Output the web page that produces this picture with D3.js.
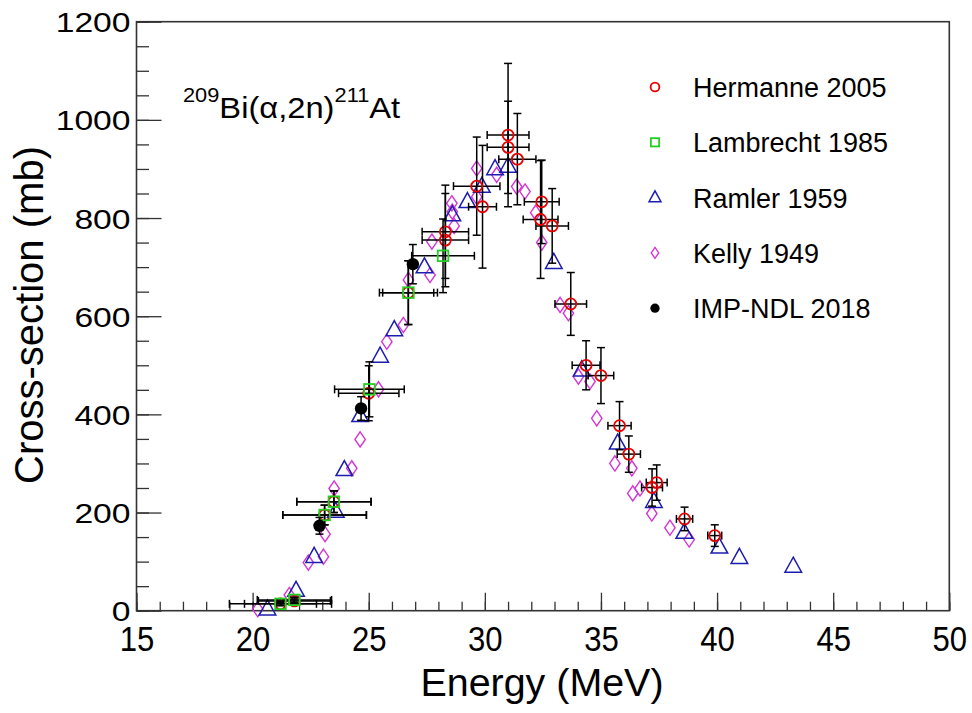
<!DOCTYPE html>
<html>
<head>
<meta charset="utf-8">
<script src="https://cdn.jsdelivr.net/npm/d3@7"></script>
<style>
  html, body { margin: 0; padding: 0; background: #ffffff; }
  svg { display: block; font-family: "Liberation Sans", Arial, Helvetica, sans-serif; }
</style>
</head>
<body>
<svg id="chart" width="972" height="713"></svg>
<script>
// ---- data: 209Bi(alpha,2n)211At excitation function ----
// energies in MeV, cross-sections in mb, uncertainties as +/- half widths

const hermanneE   = [21.2, 21.8, 23.1, 23.5, 25.0, 26.7, 28.3, 28.3, 29.65, 29.9, 31.0, 31.0, 31.4, 32.45, 32.4, 32.9, 33.7, 34.36, 35.0, 35.8, 36.2, 37.2, 37.4, 38.6, 39.9];
const hermanneXS  = [14, 20, 195, 222, 443, 648, 772, 755, 865, 823, 969, 944, 920, 833, 797, 784, 625, 500, 479, 377, 319, 251, 261, 187, 153];
const hermanneDE  = [1.55, 1.55, 1.8, 1.6, 1.3, 1.1, 1.0, 1.0, 1.0, 0.6, 0.9, 0.9, 0.8, 0.75, 0.75, 0.7, 0.68, 0.6, 0.55, 0.5, 0.5, 0.45, 0.45, 0.35, 0.3];
const hermanneDXS = [3, 4, 20, 22, 56, 65, 95, 95, 100, 125, 146, 94, 93, 85, 120, 76, 64, 50, 57, 49, 37, 38, 36, 24, 22];

const lambrechtE   = [21.2, 21.8, 23.1, 23.5, 25.03, 26.71, 28.2];
const lambrechtXS  = [14, 22, 195, 222, 451, 648, 723];
const lambrechtDE  = [2.2, 1.6, 1.8, 1.6, 1.5, 1.25, 1.35];
const lambrechtDXS = [4, 5, 20, 22, 56, 65, 75];

const ramlerE  = [20.64, 21.87, 22.65, 23.58, 23.95, 24.63, 25.49, 26.1, 27.4, 28.6, 29.25, 29.87, 30.44, 31.0, 32.97, 34.17, 35.72, 37.28, 38.59, 40.1, 40.96, 43.28];
const ramlerXS = [3, 41, 110, 202, 287, 397, 518, 572, 700, 806, 833, 864, 900, 905, 709, 490, 341, 222, 159, 129, 108, 90];

const kellyE  = [20.22, 21.58, 22.4, 23.05, 23.12, 23.51, 24.27, 24.63, 25.42, 25.78, 26.49, 26.71, 27.64, 27.72, 28.6, 28.58, 28.68, 29.65, 29.65, 30.51, 31.37, 31.73, 32.19, 32.45, 33.24, 33.6, 34.03, 34.53, 34.82, 35.6, 36.33, 36.37, 36.68, 37.19, 37.97, 38.8];
const kellyXS = [3, 32, 98, 110, 156, 249, 290, 349, 451, 548, 582, 674, 684, 752, 813, 830, 784, 901, 843, 888, 864, 854, 811, 750, 623, 606, 477, 467, 392, 300, 290, 239, 249, 198, 169, 145];

const impE   = [22.88, 24.67, 26.9];
const impXS  = [173, 412, 706];
const impDXS = [17, 24, 40];

const xTicks = [15, 20, 25, 30, 35, 40, 45, 50];
const yTicks = [0, 200, 400, 600, 800, 1000, 1200];

const legendNames = ["Hermanne 2005", "Lambrecht 1985", "Ramler 1959", "Kelly 1949", "IMP-NDL 2018"];

// ---- layout ----
const svg = d3.select("#chart");
const plotLeft = 136.5, plotRight = 949.3, plotTop = 21.7, plotBottom = 610.7;

const x = d3.scaleLinear().domain([15, 50]).range([plotLeft, plotRight]);
const y = d3.scaleLinear().domain([0, 1200]).range([plotBottom, plotTop]);

const frameColor = "#333333";
const colors = {
  hermanne: "#e60000",
  lambrecht: "#22d022",
  ramler: "#1c1cb0",
  kelly: "#d535d5",
  imp: "#000000"
};

// ---- axes ----
// minor ticks
svg.append("g")
  .attr("transform", `translate(0,${plotBottom})`)
  .call(d3.axisBottom(x).tickValues(d3.range(15, 51, 1)).tickSize(-9).tickFormat(""))
  .call(g => g.select(".domain").remove())
  .call(g => g.selectAll("line").attr("stroke", frameColor).attr("stroke-width", 1.3));

svg.append("g")
  .attr("transform", `translate(${plotLeft},0)`)
  .call(d3.axisLeft(y).tickValues(d3.range(0, 1201, 50)).tickSize(-12.5).tickFormat(""))
  .call(g => g.select(".domain").remove())
  .call(g => g.selectAll("line").attr("stroke", frameColor).attr("stroke-width", 1.3));

// major ticks with labels
const xAxis = svg.append("g")
  .attr("transform", `translate(0,${plotBottom})`)
  .call(d3.axisBottom(x).tickValues(xTicks).tickSize(-18).tickPadding(0).tickFormat(d3.format("d")));
xAxis.select(".domain").remove();
xAxis.selectAll("line").attr("stroke", frameColor).attr("stroke-width", 1.3);
xAxis.selectAll("text")
  .attr("fill", "#000")
  .attr("font-size", 35)
  .attr("y", 40)
  .attr("dy", null)
  .attr("textLength", d => String(d).length * 17.3)
  .attr("lengthAdjust", "spacingAndGlyphs");

const yAxis = svg.append("g")
  .attr("transform", `translate(${plotLeft},0)`)
  .call(d3.axisLeft(y).tickValues(yTicks).tickSize(-25).tickPadding(6).tickFormat(d3.format("d")));
yAxis.select(".domain").remove();
yAxis.selectAll("line").attr("stroke", frameColor).attr("stroke-width", 1.3);
yAxis.selectAll("text")
  .attr("fill", "#000")
  .attr("font-size", 28)
  .attr("dy", "0.36em")
  .attr("textLength", d => String(d).length * 18.7)
  .attr("lengthAdjust", "spacingAndGlyphs");

// frame
svg.append("rect")
  .attr("x", plotLeft).attr("y", plotTop)
  .attr("width", plotRight - plotLeft).attr("height", plotBottom - plotTop)
  .attr("fill", "none").attr("stroke", frameColor).attr("stroke-width", 1.6);

// axis titles
svg.append("text")
  .attr("x", 542).attr("y", 696)
  .attr("text-anchor", "middle")
  .attr("font-size", 38)
  .attr("textLength", 243).attr("lengthAdjust", "spacingAndGlyphs")
  .text("Energy (MeV)");

svg.append("text")
  .attr("transform", "translate(43,315) rotate(-90)")
  .attr("text-anchor", "middle")
  .attr("font-size", 40)
  .attr("textLength", 338).attr("lengthAdjust", "spacingAndGlyphs")
  .text("Cross-section (mb)");

// reaction label
const reaction = svg.append("text")
  .attr("transform", "translate(183,118) scale(1.09,1)")
  .attr("font-size", 30);
reaction.append("tspan").attr("font-size", 20).attr("dy", -16).text("209");
reaction.append("tspan").attr("dy", 16).text("Bi(α,2n)");
reaction.append("tspan").attr("font-size", 20).attr("dy", -16).text("211");
reaction.append("tspan").attr("dy", 16).text("At");

// ---- marker shapes ----
function marker(g, kind, cx, cy, s) {
  // s = scale factor (1 in the plot, smaller in the legend)
  if (kind === "circle") {
    g.append("circle").attr("cx", cx).attr("cy", cy).attr("r", 5.5 * s)
      .attr("fill", "none").attr("stroke", colors.hermanne).attr("stroke-width", 1.8);
  } else if (kind === "square") {
    const h = 5.3 * s;
    g.append("rect").attr("x", cx - h).attr("y", cy - h).attr("width", 2 * h).attr("height", 2 * h)
      .attr("fill", "none").attr("stroke", colors.lambrecht).attr("stroke-width", 1.8);
  } else if (kind === "triangle") {
    const w = 8.3 * s, h = 15 * s;
    g.append("path")
      .attr("d", `M${cx},${cy - h * 0.62} L${cx + w},${cy + h * 0.38} L${cx - w},${cy + h * 0.38} Z`)
      .attr("fill", "none").attr("stroke", colors.ramler).attr("stroke-width", 1.5);
  } else if (kind === "diamond") {
    const w = 5.2 * s, h = 7.6 * s;
    g.append("path")
      .attr("d", `M${cx},${cy - h} L${cx + w},${cy} L${cx},${cy + h} L${cx - w},${cy} Z`)
      .attr("fill", "none").attr("stroke", colors.kelly).attr("stroke-width", 1.4);
  } else if (kind === "dot") {
    g.append("circle").attr("cx", cx).attr("cy", cy).attr("r", 6.2 * s)
      .attr("fill", colors.imp);
  }
}

function errorBars(g, E, XS, dE, dXS) {
  const cap = 4;
  E.forEach((e, i) => {
    const cx = x(e), cy = y(XS[i]);
    if (dE && dE[i]) {
      const x0 = x(e - dE[i]), x1 = x(e + dE[i]);
      g.append("line").attr("x1", x0).attr("x2", x1).attr("y1", cy).attr("y2", cy);
      g.append("line").attr("x1", x0).attr("x2", x0).attr("y1", cy - cap).attr("y2", cy + cap);
      g.append("line").attr("x1", x1).attr("x2", x1).attr("y1", cy - cap).attr("y2", cy + cap);
    }
    if (dXS && dXS[i]) {
      const y0 = y(XS[i] - dXS[i]), y1 = y(XS[i] + dXS[i]);
      g.append("line").attr("x1", cx).attr("x2", cx).attr("y1", y0).attr("y2", y1);
      g.append("line").attr("x1", cx - cap).attr("x2", cx + cap).attr("y1", y0).attr("y2", y0);
      g.append("line").attr("x1", cx - cap).attr("x2", cx + cap).attr("y1", y1).attr("y2", y1);
    }
  });
  g.selectAll("line").attr("stroke", "#000").attr("stroke-width", 1.5);
}

const plot = svg.append("g");

// Kelly 1949
const gKelly = plot.append("g");
kellyE.forEach((e, i) => marker(gKelly, "diamond", x(e), y(kellyXS[i]), 1));

// Ramler 1959
const gRamler = plot.append("g");
ramlerE.forEach((e, i) => marker(gRamler, "triangle", x(e), y(ramlerXS[i]), 1));

// Hermanne 2005
const gHermanneBars = plot.append("g");
errorBars(gHermanneBars, hermanneE, hermanneXS, hermanneDE, hermanneDXS);
const gHermanne = plot.append("g");
hermanneE.forEach((e, i) => marker(gHermanne, "circle", x(e), y(hermanneXS[i]), 1));

// Lambrecht 1985
const gLambrechtBars = plot.append("g");
errorBars(gLambrechtBars, lambrechtE, lambrechtXS, lambrechtDE, lambrechtDXS);
const gLambrecht = plot.append("g");
lambrechtE.forEach((e, i) => marker(gLambrecht, "square", x(e), y(lambrechtXS[i]), 1));

// IMP-NDL 2018
const gImpBars = plot.append("g");
errorBars(gImpBars, impE, impXS, null, impDXS);
const gImp = plot.append("g");
impE.forEach((e, i) => marker(gImp, "dot", x(e), y(impXS[i]), 1));

// ---- legend ----
const legendKinds = ["circle", "square", "triangle", "diamond", "dot"];
const legend = svg.append("g");
legendNames.forEach((name, i) => {
  const ly = 87 + i * 55.3;
  const scale = [0.8, 0.78, 0.72, 0.72, 0.75][i];
  marker(legend, legendKinds[i], 655, ly, scale);
  legend.append("text")
    .attr("x", 693).attr("y", ly + 10)
    .attr("font-size", 27)
    .text(name);
});
</script>
</body>
</html>
